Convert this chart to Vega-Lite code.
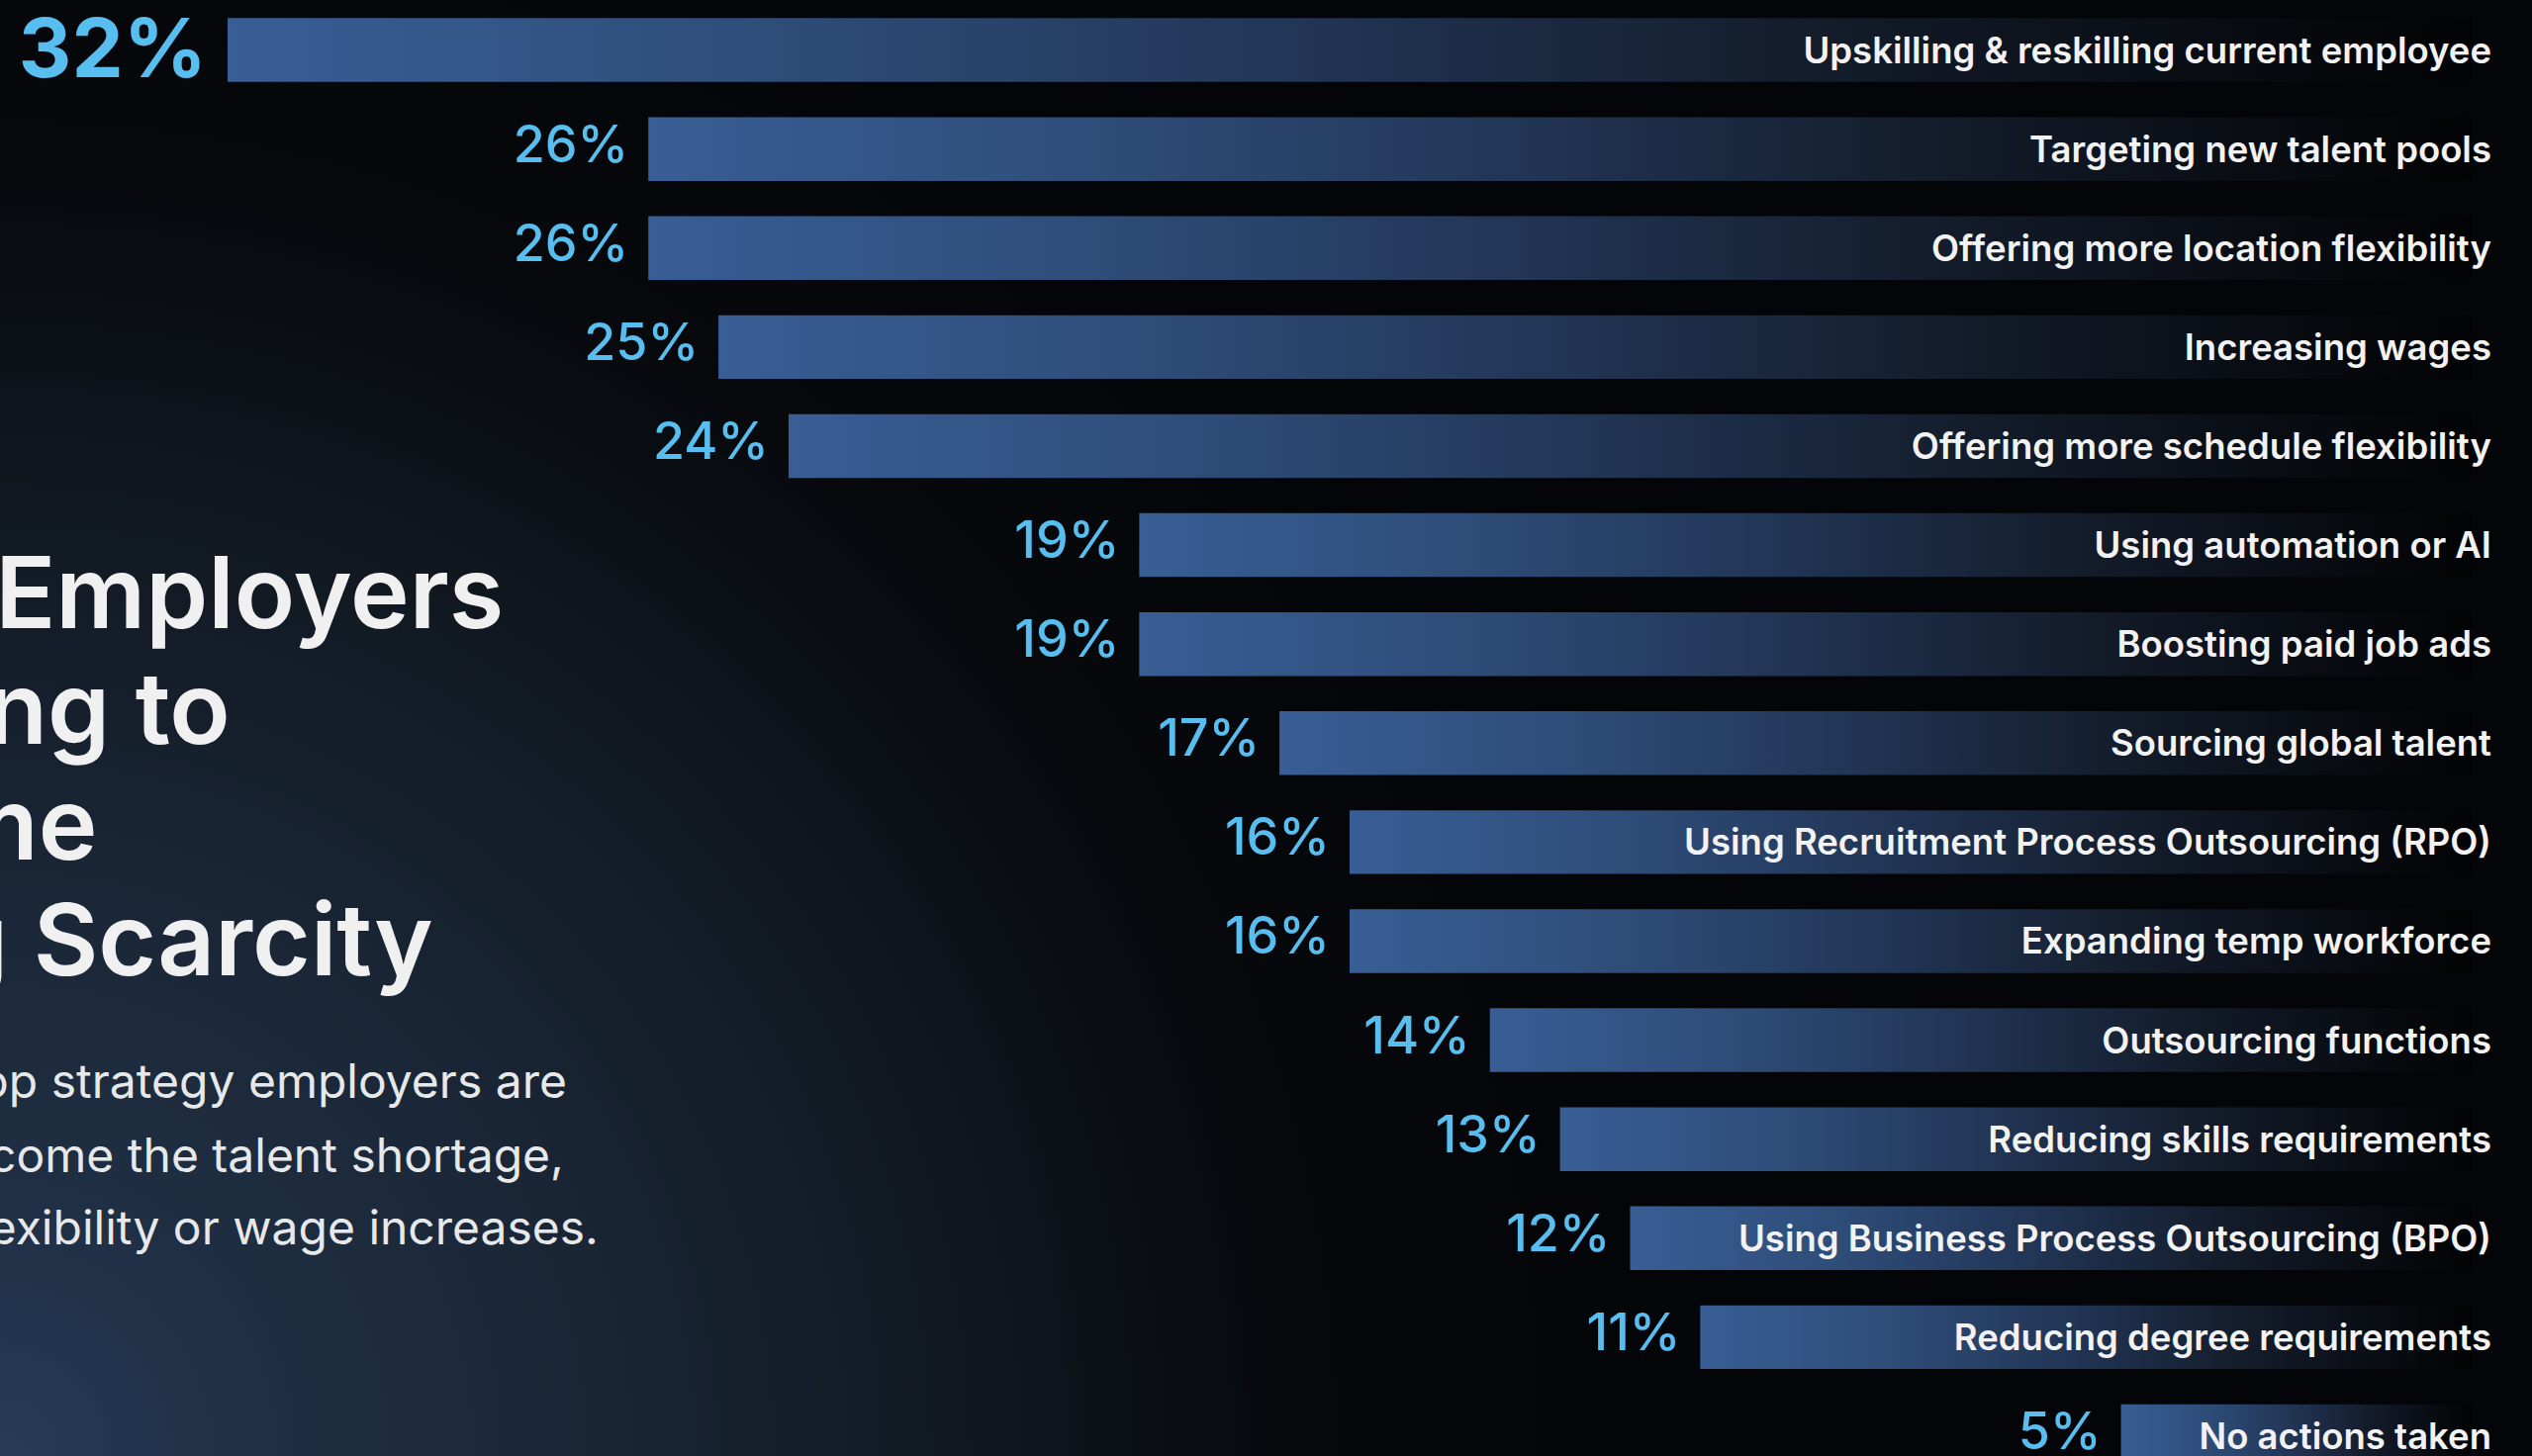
{
  "$schema": "https://vega.github.io/schema/vega-lite/v6.json",
  "width": 2559,
  "height": 1472,
  "padding": 0,
  "autosize": {"type": "none"},
  "background": "#030508",
  "config": {
    "view": {
      "stroke": null,
      "fill": {
        "gradient": "radial",
        "x1": 0, "y1": 0.7876, "r1": 0,
        "x2": 0, "y2": 0.7876, "r2": 0.65,
        "stops": [
          {"offset": 0, "color": "#283c58"},
          {"offset": 0.08, "color": "#22344d"},
          {"offset": 0.2, "color": "#1e2d40"},
          {"offset": 0.36, "color": "#1a2636"},
          {"offset": 0.6, "color": "#10171f"},
          {"offset": 0.78, "color": "#07090d"},
          {"offset": 1, "color": "#030508"}
        ]
      }
    },
    "text": {"font": "Inter"}
  },
  "datasets": {
    "bars": [
      {"label": "Upskilling & reskilling current employee", "share": 0.32, "lead": true},
      {"label": "Targeting new talent pools", "share": 0.26, "lead": false},
      {"label": "Offering more location flexibility", "share": 0.26, "lead": false},
      {"label": "Increasing wages", "share": 0.25, "lead": false},
      {"label": "Offering more schedule flexibility", "share": 0.24, "lead": false},
      {"label": "Using automation or AI", "share": 0.19, "lead": false},
      {"label": "Boosting paid job ads", "share": 0.19, "lead": false},
      {"label": "Sourcing global talent", "share": 0.17, "lead": false},
      {"label": "Using Recruitment Process Outsourcing (RPO)", "share": 0.16, "lead": false},
      {"label": "Expanding temp workforce", "share": 0.16, "lead": false},
      {"label": "Outsourcing functions", "share": 0.14, "lead": false},
      {"label": "Reducing skills requirements", "share": 0.13, "lead": false},
      {"label": "Using Business Process Outsourcing (BPO)", "share": 0.12, "lead": false},
      {"label": "Reducing degree requirements", "share": 0.11, "lead": false},
      {"label": "No actions taken", "share": 0.05, "lead": false}
    ],
    "notes": [
      {"text": "How Employers", "kind": "title", "ax": 19.9, "ay": 43.14},
      {"text": "Are Planning to", "kind": "title", "ax": 9.1, "ay": 51.09},
      {"text": "Overcome", "kind": "title", "ax": 3.85, "ay": 59.04},
      {"text": "Hiring Scarcity", "kind": "title", "ax": 17.1, "ay": 66.98},
      {"text": "Upskilling is the top strategy employers are", "kind": "body", "ax": 22.39, "ay": 75.41},
      {"text": "using to overcome the talent shortage,", "kind": "body", "ax": 22.27, "ay": 80.5},
      {"text": "ahead of flexibility or wage increases.", "kind": "body", "ax": 23.64, "ay": 85.46}
    ]
  },
  "layer": [
    {
      "data": {"name": "bars"},
      "encoding": {
        "y": {
          "field": "label", "type": "nominal", "sort": null, "axis": null,
          "scale": {"range": [18.35, 1484.2], "paddingInner": 0.356, "paddingOuter": 0}
        }
      },
      "layer": [
        {
          "mark": {
            "type": "bar",
            "clip": true,
            "color": {
              "gradient": "linear", "x1": 0, "y1": 0, "x2": 1, "y2": 0,
              "stops": [
                {"offset": 0, "color": "#385e95"},
                {"offset": 0.25, "color": "#2e4c78"},
                {"offset": 0.45, "color": "#23385a"},
                {"offset": 0.7, "color": "#141d2c"},
                {"offset": 0.9, "color": "#080b10"},
                {"offset": 1, "color": "#020304"}
              ]
            }
          },
          "encoding": {
            "x": {
              "field": "share", "type": "quantitative", "axis": null,
              "scale": {"domain": [-0.00861, 0.35245], "reverse": true, "nice": false, "zero": false}
            },
            "x2": {"datum": 0}
          }
        },
        {
          "transform": [{"filter": "!datum.lead"}],
          "mark": {"type": "text", "align": "right", "baseline": "middle", "dx": -20, "dy": -3, "fontSize": 52, "fontWeight": 500, "color": "#58bef0", "clip": true},
          "encoding": {
            "x": {"field": "share", "type": "quantitative"},
            "text": {"field": "share", "type": "quantitative", "format": ".0%"}
          }
        },
        {
          "transform": [{"filter": "datum.lead"}],
          "mark": {"type": "text", "align": "right", "baseline": "middle", "dx": -21, "dy": 2, "fontSize": 83, "fontWeight": 700, "color": "#58bef0"},
          "encoding": {
            "x": {"field": "share", "type": "quantitative"},
            "text": {"field": "share", "type": "quantitative", "format": ".0%"}
          }
        },
        {
          "mark": {"type": "text", "align": "right", "baseline": "middle", "dx": 20, "dy": 2, "fontSize": 36.5, "fontWeight": 600, "color": "#f2f2f2", "clip": true},
          "encoding": {
            "x": {"datum": 0},
            "text": {"field": "label", "type": "nominal"}
          }
        }
      ]
    },
    {
      "data": {"name": "notes"},
      "encoding": {
        "x": {"field": "ax", "type": "quantitative", "axis": null, "scale": {"domain": [0, 100], "nice": false, "zero": false}},
        "y": {"field": "ay", "type": "quantitative", "axis": null, "scale": {"domain": [0, 100], "reverse": true, "nice": false, "zero": false}},
        "text": {"field": "text", "type": "nominal"}
      },
      "layer": [
        {
          "transform": [{"filter": "datum.kind === 'title'"}],
          "mark": {"type": "text", "align": "right", "baseline": "alphabetic", "fontSize": 101, "fontWeight": 600, "color": "#f0f0f0"}
        },
        {
          "transform": [{"filter": "datum.kind === 'body'"}],
          "mark": {"type": "text", "align": "right", "baseline": "alphabetic", "fontSize": 48, "fontWeight": 400, "color": "#e6e8ea"}
        }
      ]
    }
  ],
  "resolve": {"scale": {"x": "independent", "y": "independent"}}
}
